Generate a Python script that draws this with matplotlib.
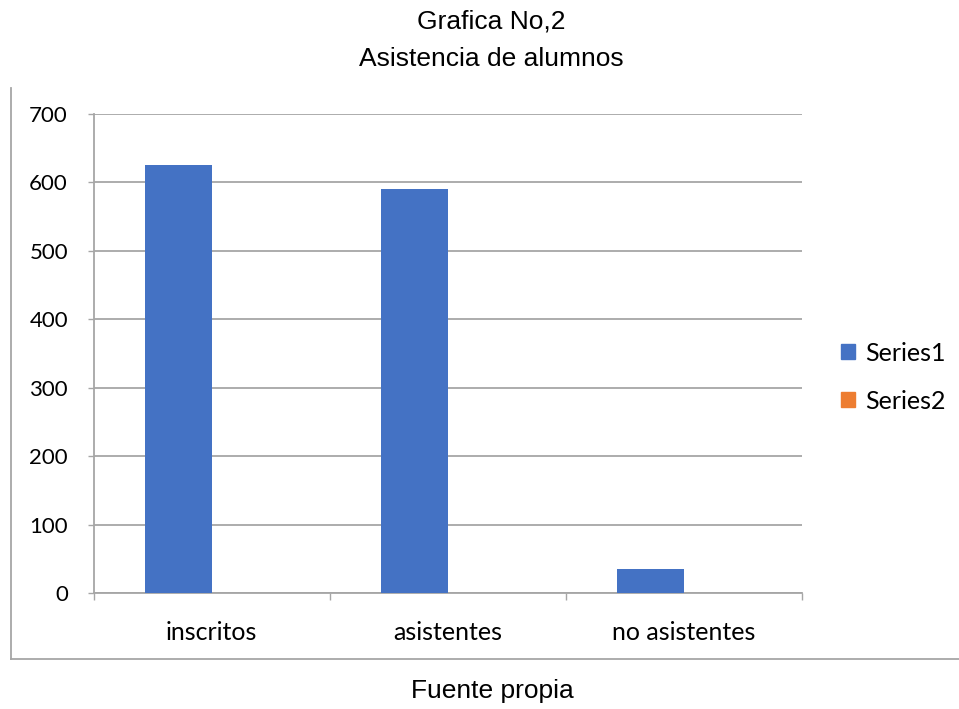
import matplotlib.pyplot as plt
from matplotlib.lines import Line2D
from matplotlib.patches import Patch
import numpy as np

categorias = ["inscritos", "asistentes", "no asistentes"]
serie1 = [625, 590, 35]
serie2 = [0, 0, 0]
yticks = [0, 100, 200, 300, 400, 500, 600, 700]

azul = "#4472C4"
naranja = "#ED7D31"
gris = "#a6a6a6"
fuente_ejes = ["Lato", "DejaVu Sans"]
fuente_titulo = ["Liberation Sans", "DejaVu Sans"]

fig = plt.figure(figsize=(9.59, 7.09), dpi=100)
ax = fig.add_axes([0.0977, 0.1636, 0.8363 - 0.0977, 0.8396 - 0.1636])

x = np.arange(len(categorias))
w = 0.2836
ax.bar(x - w / 2, serie1, w, color=azul, zorder=3)
ax.bar(x + w / 2, serie2, w, color=naranja, zorder=3)

ax.set_xlim(-0.5, len(categorias) - 0.5)
ax.set_ylim(0, 700)
ax.set_yticks(yticks)
ax.set_yticklabels([str(v) for v in yticks], family=fuente_ejes, fontsize=16)
ax.set_xticks(x)
ax.set_xticklabels(categorias, family=fuente_ejes, fontsize=18)
ax.set_xticks(np.arange(-0.5, len(categorias)), minor=True)

ax.tick_params(axis="y", length=4.5, color=gris, pad=14, width=1)
ax.tick_params(axis="x", which="major", length=0, pad=20)
ax.tick_params(axis="x", which="minor", length=5, color=gris, width=1)
ax.yaxis.grid(True, color=gris, linewidth=1.3, zorder=0)
ax.set_axisbelow(True)
for s in ["top", "right"]:
    ax.spines[s].set_visible(False)
for s in ["left", "bottom"]:
    ax.spines[s].set_color(gris)
    ax.spines[s].set_linewidth(1.3)

# leyenda
handles = [Patch(color=azul), Patch(color=naranja)]
leg = fig.legend(handles, ["Series1", "Series2"], loc="center left",
                 bbox_to_anchor=(0.854, 0.468), frameon=False,
                 prop={"family": fuente_ejes, "size": 18},
                 handlelength=0.55, handleheight=0.55, handletextpad=0.4,
                 labelspacing=1.0)

# titulos
fig.text(0.512, 1 - 29 / 709, "Grafica No,2", ha="center", va="baseline",
         family=fuente_titulo, fontsize=19)
fig.text(0.512, 1 - 66 / 709, "Asistencia de alumnos", ha="center",
         va="baseline", family=fuente_titulo, fontsize=19)
fig.text(0.513, 1 - 698 / 709, "Fuente propia", ha="center", va="baseline",
         family=fuente_titulo, fontsize=19)

# marco del grafico
fig.add_artist(Line2D([11 / 959, 11 / 959], [1 - 88 / 709, 1 - 659 / 709],
                      color=gris, linewidth=1.3))
fig.add_artist(Line2D([11 / 959, 1.0], [1 - 659 / 709, 1 - 659 / 709],
                      color=gris, linewidth=1.3))

plt.savefig("out.png", dpi=100)
